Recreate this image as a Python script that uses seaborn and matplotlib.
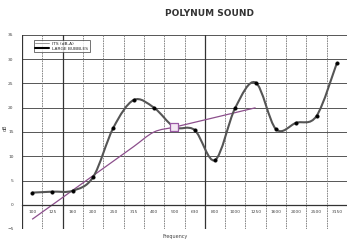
import numpy as np
import pandas as pd
import matplotlib
matplotlib.use("Agg")
import matplotlib.pyplot as plt
import seaborn as sns
from matplotlib.path import Path
from matplotlib.patches import PathPatch
from matplotlib.lines import Line2D

freqs = ["100", "125", "160", "200", "250", "315", "400", "500",
         "630", "800", "1000", "1250", "1600", "2000", "2500", "3150"]
bubbles = [2.5, 2.7, 2.9, 5.7, 15.9, 21.6, 20.0, 16.0,
           15.4, 9.2, 20.0, 25.2, 15.6, 16.9, 18.3, 29.2]
ref_freqs = ["100", "125", "160", "200", "250", "315", "400", "500",
             "630", "800", "1000", "1250"]
ref_curve = [-3, 0, 3, 6, 9, 12, 15, 16, 17, 18, 19, 20]
ref_point = "500"

df = pd.DataFrame({"freq": freqs, "db": bubbles})
df["x"] = range(len(df))
ref = pd.DataFrame({"freq": ref_freqs, "db": ref_curve})
ref["x"] = range(len(ref))


def smooth_path(xs, ys):
    # excel style smoothed line (bezier through every point)
    pts = np.column_stack([xs, ys]).astype(float)
    verts = [pts[0]]
    codes = [Path.MOVETO]
    n = len(pts)
    for i in range(n - 1):
        p0 = pts[max(i - 1, 0)]
        p1 = pts[i]
        p2 = pts[i + 1]
        p3 = pts[min(i + 2, n - 1)]
        c1 = p1 + (p2 - p0) / 6
        c2 = p2 - (p3 - p1) / 6
        verts += [c1, c2, p2]
        codes += [Path.CURVE4] * 3
    return Path(verts, codes)


sns.set_style("white")
fig = plt.figure(figsize=(3.47, 2.41), dpi=100)
ax = fig.add_axes([22 / 347, 12 / 241, 325 / 347, 194 / 241])

ax.set_xlim(-0.5, len(freqs) - 0.5)
ax.set_ylim(-5, 35)
ax.set_yticks(range(-5, 36, 5))
ax.tick_params(axis="y", labelsize=3.2, length=2, pad=4, colors="#444444")
ax.set_xticks(range(len(freqs)))
ax.set_xticklabels(freqs)
ax.tick_params(axis="x", labelsize=3.2, length=0, pad=4, colors="#444444")
ax.spines["bottom"].set_position(("data", 0))
for s in ["top", "right", "left"]:
    ax.spines[s].set_visible(False)
ax.spines["bottom"].set_color("#333333")
ax.spines["bottom"].set_linewidth(0.9)

for yv in range(-5, 36, 5):
    ax.axhline(yv, color="#555555", lw=0.7, zorder=0)
for k in range(len(freqs) + 1):
    dark = k in (0, 2, 9)
    ax.axvline(k - 0.5, color="#333333" if dark else "#777777",
               lw=0.9 if dark else 0.6, ls="-" if dark else (0, (2, 1)), zorder=0)

ax.add_patch(PathPatch(smooth_path(ref["x"], ref["db"]), fill=False,
                       edgecolor="#8c4f8c", lw=0.9, zorder=2))
ax.add_patch(PathPatch(smooth_path(df["x"], df["db"]), fill=False,
                       edgecolor="#555555", lw=1.5, zorder=3))

sns.scatterplot(data=df[df["freq"] != ref_point], x="x", y="db", ax=ax,
                color="black", s=7, edgecolor="black", zorder=4, legend=False)
sns.scatterplot(data=ref[ref["freq"] == ref_point], x="x", y="db", ax=ax,
                marker="s", s=40, facecolor="#f4e8f4", edgecolor="#9b5aa5",
                linewidth=0.9, zorder=5, legend=False)

ax.set_xlabel("Frequency", fontsize=3.5, color="#444444")
ax.xaxis.set_label_coords(0.47, -0.025)
ax.set_ylabel("dB", fontsize=3.5, color="#444444")
ax.yaxis.set_label_coords(-0.045, 0.52)

handles = [Line2D([], [], color="#888888", lw=0.6),
           Line2D([], [], color="black", lw=1.5)]
leg = ax.legend(handles, ["ITS (dB-A)", "LARGE BUBBLES"], loc="upper left",
                bbox_to_anchor=(0.03, 0.985), fontsize=3.2, frameon=True,
                fancybox=False, edgecolor="#333333", handlelength=3,
                borderpad=0.3, labelspacing=0.2)
leg.get_frame().set_linewidth(0.6)

fig.text(210 / 347, 1 - 14 / 241, "POLYNUM SOUND", ha="center", va="center",
         fontsize=6.5, fontweight="bold", color="#333333")

fig.savefig("out.png", dpi=100)
